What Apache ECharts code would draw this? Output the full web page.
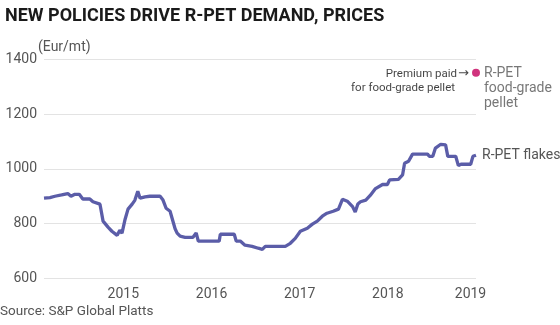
<!DOCTYPE html>
<html>
<head>
<meta charset="utf-8">
<script src="https://cdn.jsdelivr.net/npm/echarts@6/dist/echarts.min.js"></script>
<style>
html,body{margin:0;padding:0;background:#fff;}
#chart{width:560px;height:325px;}
</style>
</head>
<body>
<div id="chart"></div>
<script>
// Time positions (decimal years) and R-PET flakes prices (Eur/mt)
var flakeDates = [2014.10,2014.167,2014.224,2014.30,2014.37,2014.406,2014.45,2014.50,2014.54,2014.62,2014.655,2014.735,2014.77,2014.826,2014.87,2014.93,2014.96,2014.985,2015.02,2015.053,2015.10,2015.13,2015.164,2015.19,2015.246,2015.30,2015.417,2015.45,2015.485,2015.53,2015.587,2015.61,2015.644,2015.70,2015.79,2015.826,2015.85,2016.087,2016.10,2016.258,2016.28,2016.326,2016.38,2016.46,2016.53,2016.576,2016.61,2016.837,2016.894,2016.95,2017.008,2017.087,2017.144,2017.20,2017.257,2017.31,2017.38,2017.44,2017.485,2017.54,2017.60,2017.63,2017.66,2017.69,2017.75,2017.80,2017.86,2017.94,2017.995,2018.02,2018.12,2018.167,2018.19,2018.235,2018.28,2018.45,2018.47,2018.51,2018.54,2018.60,2018.655,2018.68,2018.77,2018.80,2018.83,2018.94,2018.965,2019.0];
var flakeValues = [893,895,900,905,910,900,907,907,890,890,880,871,809,787,772,757,776,765,816,853,871,885,918,893,898,900,900,886,856,845,781,765,754,750,750,766,736,736,761,761,736,736,721,717,710,706,717,717,728,746,772,783,798,809,827,838,845,853,889,882,862,842,872,880,886,903,928,943,943,960,962,978,1021,1028,1054,1054,1046,1046,1076,1090,1088,1046,1046,1012,1017,1017,1046,1050];
var pelletDate = 2019.0;
var pelletValue = 1352;
var yearTicks = [2015, 2016, 2017, 2018, 2019];

var chart = echarts.init(document.getElementById('chart'));
var flakes = flakeDates.map(function (d, i) { return [d, flakeValues[i]]; });
var font = 'Roboto, "Noto Sans", sans-serif';

chart.setOption({
  animation: false,
  textStyle: { fontFamily: font },
  title: {
    text: 'NEW POLICIES DRIVE R-PET DEMAND, PRICES',
    left: 0, top: 2,
    textStyle: { fontSize: 18, fontWeight: 'bold', color: '#1a1a1a', fontFamily: font }
  },
  graphic: [
    { type: 'text', left: 38, top: 40, style: { text: '(Eur/mt)', fontSize: 14, fill: '#555', fontFamily: font } },
    { type: 'text', left: 0, top: 305, style: { text: 'Source: S&P Global Platts', fontSize: 13.5, fill: '#555', fontFamily: font } }
  ],
  grid: { left: 44, right: 84, top: 59.5, bottom: 46.7, containLabel: false },
  xAxis: {
    type: 'value',
    min: 2014.1, max: 2019.0,
    axisLine: { show: false },
    axisTick: { show: false },
    splitLine: { show: false },
    axisLabel: {
      customValues: yearTicks,
      color: '#555', fontSize: 14, margin: 9,
      formatter: function (v) { return v === 2019 ? '{b|2019}' : String(v); },
      rich: { b: { color: '#555', fontSize: 14, padding: [0, 11, 0, 0], fontFamily: font } }
    }
  },
  yAxis: {
    type: 'value',
    min: 600, max: 1400, interval: 200,
    axisLine: { show: false },
    axisTick: { show: false },
    axisLabel: { color: '#555', fontSize: 14, margin: 7, formatter: function (v) { return String(v); } },
    splitLine: { lineStyle: { color: '#e3e3e3', width: 1 } }
  },
  series: [
    {
      type: 'line',
      data: flakes,
      symbol: 'none',
      lineStyle: { color: '#5b5da8', width: 3.3 },
      endLabel: { show: true, formatter: 'R-PET flakes', color: '#555', fontSize: 14, distance: 6 }
    },
    {
      type: 'scatter',
      data: [[pelletDate, pelletValue]],
      symbolSize: 8,
      itemStyle: { color: '#c4005c' },
      label: {
        show: true, position: 'right', distance: 4,
        formatter: 'R-PET\nfood-grade\npellet',
        color: '#555', fontSize: 14, lineHeight: 15, verticalAlign: 'top', offset: [0, -7]
      }
    },
    {
      type: 'scatter',
      data: [[pelletDate, pelletValue]],
      symbolSize: 0,
      silent: true,
      label: {
        show: true, position: 'left', distance: 7,
        formatter: '{t|Premium paid}{a|\u2192}\n{t2|for food-grade pellet}',
        align: 'right', verticalAlign: 'top', offset: [0, -6],
        rich: {
          t: { color: '#111', fontSize: 11.5, lineHeight: 14, fontFamily: font },
          a: { color: '#111', fontSize: 13, lineHeight: 14, fontFamily: '"DejaVu Sans"', padding: [0, 0, 0, 1] },
          t2: { color: '#111', fontSize: 11.5, lineHeight: 14, fontFamily: font, padding: [0, 14, 0, 0] }
        }
      }
    }
  ]
});
</script>
</body>
</html>
